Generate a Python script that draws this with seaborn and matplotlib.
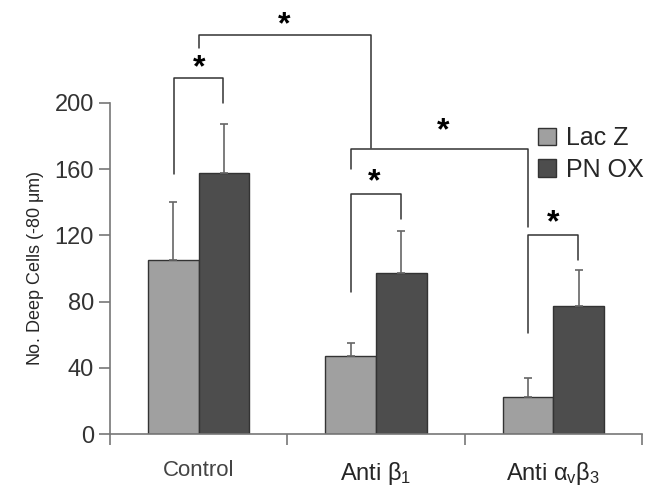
import matplotlib
matplotlib.use("Agg")
import matplotlib.pyplot as plt
import seaborn as sns
import pandas as pd
import numpy as np

# Data
groups = ["Control", "Anti b1", "Anti avb3"]
group_labels = ["Control", r"Anti $\beta_1$", r"Anti $\alpha_v\beta_3$"]
treatments = ["Lac Z", "PN OX"]
lacz_mean = [105, 47, 22.5]
lacz_err = [35, 8, 11.5]
pnox_mean = [158, 97, 77.5]
pnox_err = [29.5, 25.5, 21.5]

# Significance brackets: (x_left, x_right, y_bar, y_left_end, y_right_end)
brackets = [
    (-0.14, 0.14, 215, 157, 200),
    (0.0, 0.97, 241, 233, 173),
    (0.86, 1.86, 172, 160, 125),
    (0.86, 1.14, 145, 86, 130),
    (1.86, 2.14, 120, 61, 105),
]
star_x = [0.0, 0.48, 1.38, 0.99, 2.0]
star_y = [212, 238, 174, 143, 118]

COLORS = {"Lac Z": "#a0a0a0", "PN OX": "#4d4d4d"}
AXIS_COLOR = "#777777"

df = pd.DataFrame({
    "group": groups * 2,
    "treatment": ["Lac Z"] * 3 + ["PN OX"] * 3,
    "cells": lacz_mean + pnox_mean,
    "err": lacz_err + pnox_err,
})

sns.set_theme(style="white")
plt.rcParams["font.family"] = ["Liberation Sans", "DejaVu Sans"]
plt.rcParams["mathtext.fontset"] = "custom"
plt.rcParams["mathtext.rm"] = "Liberation Sans"
plt.rcParams["mathtext.it"] = "Liberation Sans"

fig = plt.figure(figsize=(6.68, 4.98), dpi=100)
ax = fig.add_axes([0.1647, 0.1285, 0.7963, 0.6647])

sns.barplot(data=df, x="group", y="cells", hue="treatment", order=groups,
            hue_order=treatments, palette=COLORS, width=0.57, errorbar=None,
            edgecolor="#333333", linewidth=1.0, saturation=1, ax=ax)

# upper-only error bars
for cont, tr in zip(ax.containers, treatments):
    sub = df[df["treatment"] == tr].set_index("group").loc[groups]
    xs = [p.get_x() + p.get_width() / 2 for p in cont.patches]
    ax.errorbar(xs, sub["cells"], yerr=[np.zeros(len(xs)), sub["err"]],
                fmt="none", ecolor="#666666", elinewidth=1.2, capsize=3,
                capthick=1.2, zorder=1)

# significance brackets
for (x0, x1, yb, yl, yr), sx, sy in zip(brackets, star_x, star_y):
    ax.plot([x0, x0, x1, x1], [yl, yb, yb, yr], color="#333333", lw=1.1,
            clip_on=False)
    ax.text(sx, sy, "*", ha="center", va="bottom", fontsize=23,
            fontweight="bold", color="black", clip_on=False)

ax.set_xlim(-0.5, 2.5)
ax.set_ylim(0, 200)
ax.set_yticks([0, 40, 80, 120, 160, 200])
ax.set_xticks([0, 1, 2])
ax.set_xticklabels(group_labels)
ax.set_xticks([-0.5, 0.5, 1.5, 2.5], minor=True)
ax.tick_params(axis="x", which="major", length=0, pad=19, labelsize=17)
ax.tick_params(axis="x", which="minor", length=8, width=1.2,
               color=AXIS_COLOR, direction="out", bottom=True)
ax.tick_params(axis="y", length=8, width=1.2, color=AXIS_COLOR,
               direction="out", left=True, labelsize=17, labelcolor="#333333")
ax.get_xticklabels()[0].set_color("#444444")
ax.get_xticklabels()[0].set_fontsize(16)

ax.set_xlabel("")
ax.set_ylabel(r"No. Deep Cells (-80 $\mu$m)", fontsize=13, labelpad=6)

sns.despine(ax=ax, top=True, right=True)
for side in ["left", "bottom"]:
    ax.spines[side].set_color(AXIS_COLOR)
    ax.spines[side].set_linewidth(1.2)

ax.legend(loc="upper left", bbox_to_anchor=(0.786, 0.96), frameon=False,
          fontsize=18, handlelength=0.7, handleheight=0.7, handletextpad=0.4,
          labelspacing=0.3, borderaxespad=0)

fig.savefig("out.png", dpi=100)
